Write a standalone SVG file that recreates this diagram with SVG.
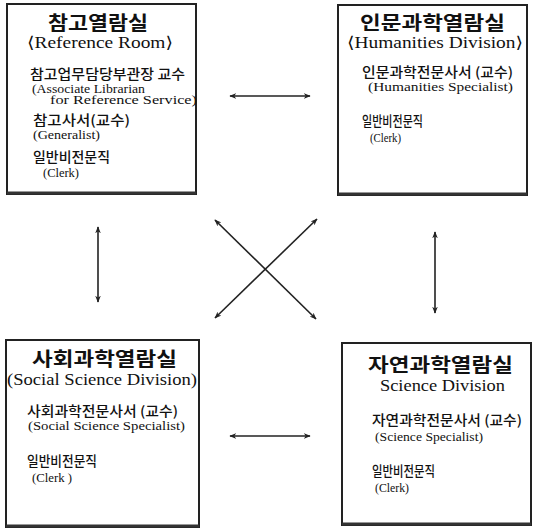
<svg xmlns="http://www.w3.org/2000/svg" width="533" height="532" viewBox="0 0 533 532">
<style>
.box{fill:#fff;stroke:#222;stroke-width:2}
.bot{stroke:#333;stroke-width:3}
.t{font-family:"Noto Sans CJK KR","Noto Sans",sans-serif;font-weight:bold;font-size:19px;fill:#111}
.e{font-family:"Liberation Serif","DejaVu Serif",serif;fill:#111;font-size:13.5px}
.s{font-family:"Liberation Serif","DejaVu Serif",serif;fill:#111;font-size:16px}
.k{font-family:"Noto Sans CJK KR","Noto Sans",sans-serif;font-size:13.5px;fill:#111;font-weight:500}
.c{stroke:#222;stroke-width:1.6;fill:none;marker-start:url(#ah);marker-end:url(#ah)}
</style>
<defs>
<marker id="ah" viewBox="0 0 10 10" refX="9" refY="5" markerWidth="7" markerHeight="7" orient="auto-start-reverse" markerUnits="userSpaceOnUse">
<path d="M0,1 L10,5 L0,9 L3,5 Z" fill="#222"/>
</marker>
</defs>
<rect width="533" height="532" fill="#fff"/>
<g id="reference-room">
<rect class="box" x="7" y="4" width="189" height="190"/>
<line class="bot" x1="7" y1="193" x2="196" y2="193"/>
<text class="t" x="48" y="30" textLength="100" lengthAdjust="spacingAndGlyphs">참고열람실</text>
<text class="s" x="27" y="48" textLength="146" lengthAdjust="spacingAndGlyphs">⟨Reference Room⟩</text>
<text class="k" x="30" y="79" textLength="155" lengthAdjust="spacingAndGlyphs">참고업무담당부관장 교수</text>
<text class="e" x="32" y="93" font-size="12.5" textLength="113" lengthAdjust="spacingAndGlyphs">(Associate Librarian</text>
<text class="e" x="50" y="104" font-size="12.5" textLength="147" lengthAdjust="spacingAndGlyphs">for Reference Service)</text>
<text class="k" x="33" y="125" textLength="97" lengthAdjust="spacingAndGlyphs">참고사서(교수)</text>
<text class="e" x="33" y="139" textLength="67" lengthAdjust="spacingAndGlyphs">(Generalist)</text>
<text class="k" x="33" y="162" textLength="77" lengthAdjust="spacingAndGlyphs">일반비전문직</text>
<text class="e" x="43" y="177" textLength="36" lengthAdjust="spacingAndGlyphs">(Clerk)</text>
</g>
<g id="humanities-division">
<rect class="box" x="338" y="5" width="189" height="190"/>
<line class="bot" x1="338" y1="194" x2="527" y2="194"/>
<text class="t" x="360" y="30" textLength="145" lengthAdjust="spacingAndGlyphs">인문과학열람실</text>
<text class="s" x="347" y="48" textLength="176" lengthAdjust="spacingAndGlyphs">⟨Humanities Division⟩</text>
<text class="k" x="362" y="77" textLength="151" lengthAdjust="spacingAndGlyphs">인문과학전문사서 (교수)</text>
<text class="e" x="368" y="91" textLength="145" lengthAdjust="spacingAndGlyphs">(Humanities Specialist)</text>
<text class="k" x="362" y="126" textLength="61" lengthAdjust="spacingAndGlyphs">일반비전문직</text>
<text class="e" x="370" y="142" textLength="31" lengthAdjust="spacingAndGlyphs">(Clerk)</text>
</g>
<g id="social-science-division">
<rect class="box" x="6" y="340" width="193" height="187"/>
<line class="bot" x1="6" y1="526" x2="199" y2="526"/>
<text class="t" x="32" y="366" textLength="145" lengthAdjust="spacingAndGlyphs">사회과학열람실</text>
<text class="s" x="7" y="385" textLength="190" lengthAdjust="spacingAndGlyphs">(Social Science Division)</text>
<text class="k" x="27" y="416" textLength="151" lengthAdjust="spacingAndGlyphs">사회과학전문사서 (교수)</text>
<text class="e" x="28" y="430" textLength="157" lengthAdjust="spacingAndGlyphs">(Social Science Specialist)</text>
<text class="k" x="27" y="466" textLength="70" lengthAdjust="spacingAndGlyphs">일반비전문직</text>
<text class="e" x="32" y="482" textLength="40" lengthAdjust="spacingAndGlyphs">(Clerk )</text>
</g>
<g id="science-division">
<rect class="box" x="342" y="343" width="189" height="182"/>
<line class="bot" x1="342" y1="524" x2="531" y2="524"/>
<text class="t" x="368" y="372" textLength="145" lengthAdjust="spacingAndGlyphs">자연과학열람실</text>
<text class="s" x="380" y="391" textLength="125" lengthAdjust="spacingAndGlyphs">Science Division</text>
<text class="k" x="372" y="425" textLength="150" lengthAdjust="spacingAndGlyphs">자연과학전문사서 (교수)</text>
<text class="e" x="375" y="441" textLength="108" lengthAdjust="spacingAndGlyphs">(Science Specialist)</text>
<text class="k" x="372" y="476" textLength="63" lengthAdjust="spacingAndGlyphs">일반비전문직</text>
<text class="e" x="375" y="492" textLength="34" lengthAdjust="spacingAndGlyphs">(Clerk)</text>
</g>
<g id="connectors">
<line class="c" x1="230" y1="96" x2="310" y2="96"/>
<line class="c" x1="230" y1="436" x2="310" y2="436"/>
<line class="c" x1="98" y1="227" x2="98" y2="302"/>
<line class="c" x1="435" y1="232" x2="435" y2="313"/>
<line class="c" x1="215" y1="220" x2="316" y2="319"/>
<line class="c" x1="317" y1="219" x2="215" y2="318"/>
</g>
</svg>
